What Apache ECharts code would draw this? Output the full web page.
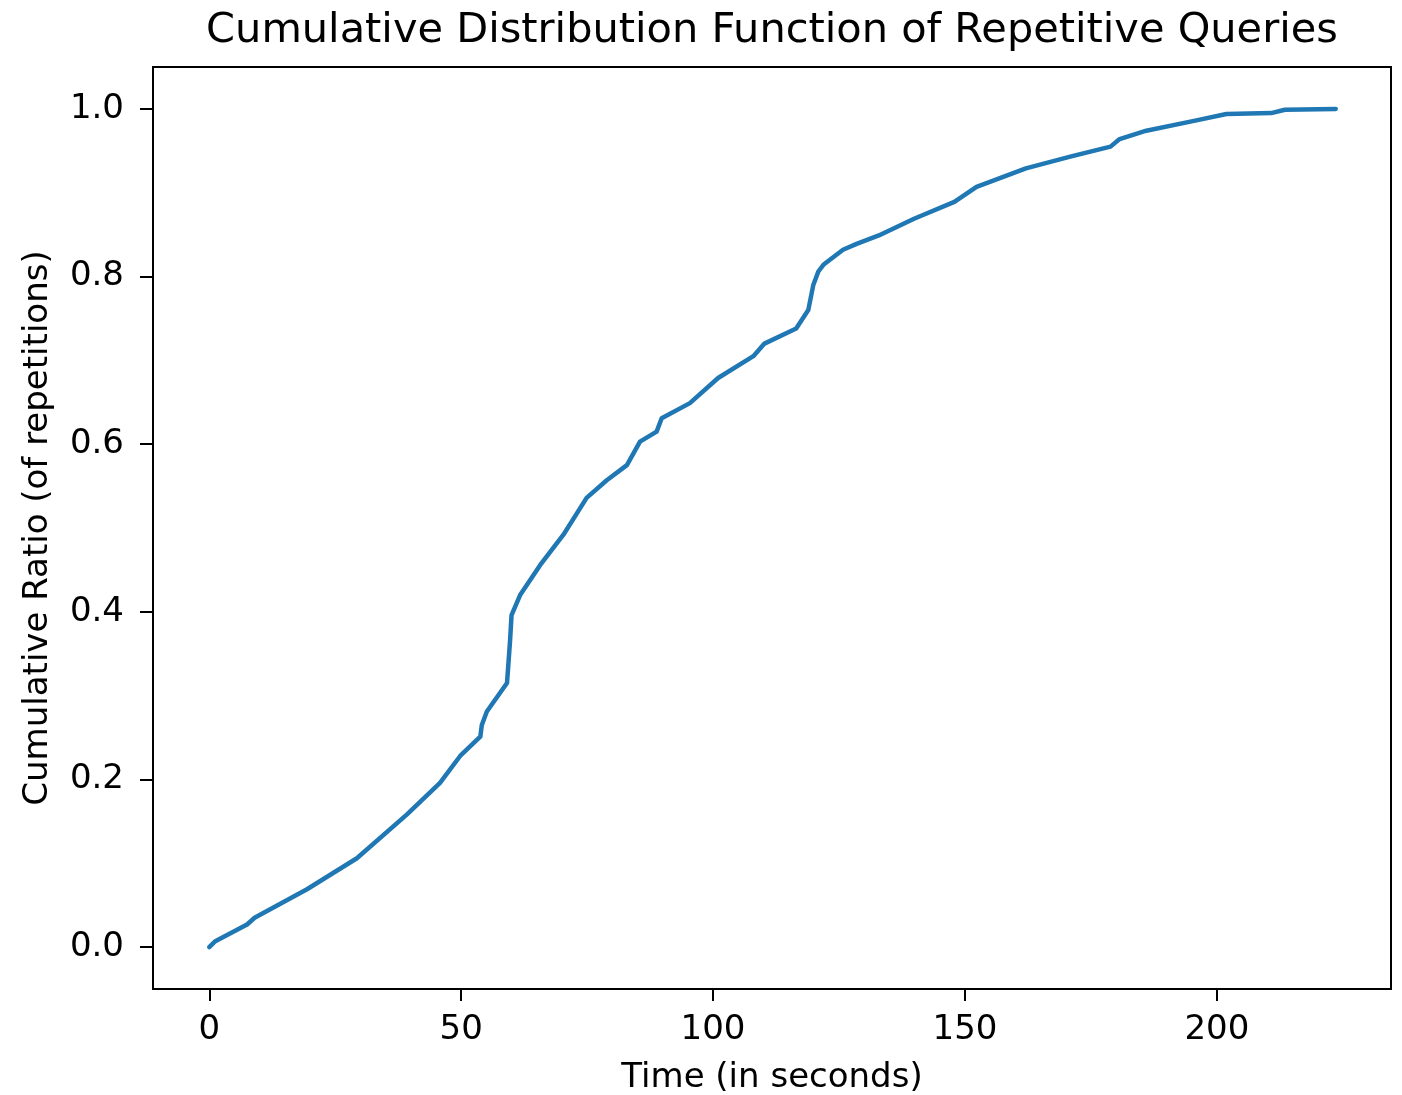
<!DOCTYPE html>
<html>
<head>
<meta charset="utf-8">
<title>CDF of Repetitive Queries</title>
<script src="https://cdn.jsdelivr.net/npm/echarts@6/dist/echarts.min.js"></script>
<style>
  html, body { margin: 0; padding: 0; background: #fff; }
  #chart { width: 1402px; height: 1095px; }
</style>
</head>
<body>
<div id="chart"></div>
<script>
  // time in seconds
  const timeSec = [0, 1.2, 7.5, 9, 19.4, 29.3, 39.2, 45.8, 49.8, 53.8, 54.1, 55.1, 59.1, 59.7,
    60.0, 61.7, 65.7, 70.3, 74.9, 78.9, 82.9, 85.5, 88.8, 89.8, 95.4, 101, 108, 110.2,
    116.5, 118.9, 119.9, 120.9, 121.9, 125.8, 128.5, 132.9, 139.9, 147.9, 152.3, 162.1,
    170.9, 178.9, 180.7, 186, 195.7, 201.9, 210.8, 213.5, 223.6]
  // cumulative ratio for each time
  const cumRatio = [0, 0.007, 0.027, 0.035, 0.069, 0.106, 0.158, 0.196, 0.228, 0.251, 0.265, 0.281, 0.315, 0.365,
    0.396, 0.42, 0.456, 0.492, 0.536, 0.557, 0.575, 0.603, 0.615, 0.631, 0.649, 0.679, 0.705, 0.72,
    0.738, 0.76, 0.79, 0.806, 0.814, 0.832, 0.839, 0.849, 0.869, 0.889, 0.907, 0.929,
    0.943, 0.955, 0.964, 0.974, 0.986, 0.994, 0.995, 0.999, 1.0]
  const xTicks = [0, 50, 100, 150, 200]
  const yTicks = [0, 0.2, 0.4, 0.6, 0.8, 1.0]

  const font = 'DejaVu Sans'
  const points = timeSec.map((t, i) => [t, cumRatio[i]])

  let myChart = echarts.init(document.getElementById('chart'))
  myChart.setOption({
    animation: false,
    backgroundColor: '#fff',
    title: {
      text: 'Cumulative Distribution Function of Repetitive Queries',
      left: 767,
      top: 5,
      textAlign: 'center',
      textStyle: {
        fontFamily: font,
        fontSize: 41.5,
        fontWeight: 'normal',
        color: '#000'
      }
    },
    grid: {
      left: 153,
      top: 67,
      width: 1238,
      height: 922,
      containLabel: false,
      outerBoundsMode: 'none',
      show: true,
      borderColor: '#000',
      borderWidth: 2
    },
    xAxis: {
      type: 'value',
      min: -11.17,
      max: 234.57,
      name: 'Time (in seconds)',
      nameLocation: 'middle',
      nameGap: 72,
      nameTextStyle: { fontFamily: font, fontSize: 34, color: '#000' },
      splitLine: { show: false },
      axisLine: { show: true, onZero: false, lineStyle: { color: '#000', width: 2 } },
      axisTick: { show: true, length: 12, customValues: xTicks, lineStyle: { color: '#000', width: 2 } },
      axisLabel: {
        customValues: xTicks,
        margin: 24,
        fontFamily: font,
        fontSize: 34,
        color: '#000'
      }
    },
    yAxis: {
      type: 'value',
      min: -0.05,
      max: 1.05,
      name: 'Cumulative Ratio (of repetitions)',
      nameLocation: 'middle',
      nameRotate: 90,
      nameGap: 98,
      nameTextStyle: { fontFamily: font, fontSize: 34, color: '#000' },
      splitLine: { show: false },
      axisLine: { show: true, onZero: false, lineStyle: { color: '#000', width: 2 } },
      axisTick: { show: true, length: 13, customValues: yTicks, lineStyle: { color: '#000', width: 2 } },
      axisLabel: {
        customValues: yTicks,
        margin: 29,
        fontFamily: font,
        fontSize: 34,
        color: '#000',
        formatter: v => v.toFixed(1)
      }
    },
    series: [
      {
        type: 'line',
        data: points,
        showSymbol: false,
        smooth: false,
        lineStyle: { color: '#1f77b4', width: 4.5, join: 'round', cap: 'round' },
        itemStyle: { color: '#1f77b4' }
      }
    ]
  })
</script>
</body>
</html>
